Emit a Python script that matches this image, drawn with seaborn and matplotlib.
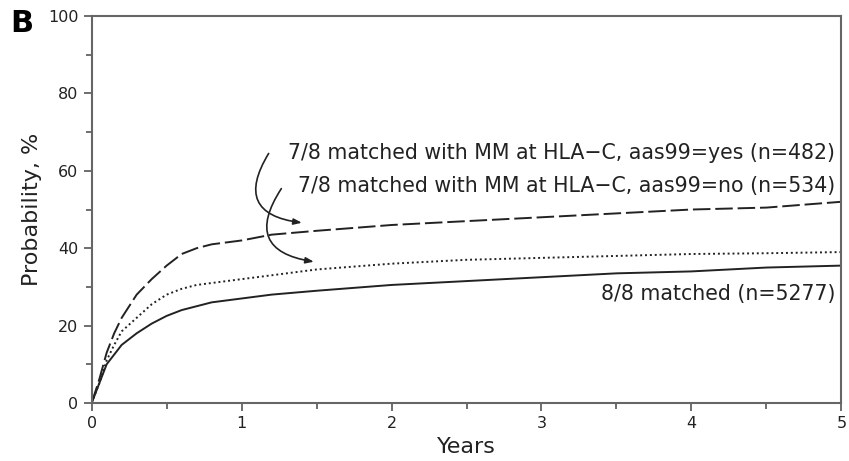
import numpy as np
import pandas as pd
import matplotlib
matplotlib.use("Agg")
import matplotlib.pyplot as plt
from matplotlib.ticker import MultipleLocator
import seaborn as sns

# values (years, cumulative probability %)
years = [0, 0.05, 0.1, 0.15, 0.2, 0.3, 0.4, 0.5, 0.6, 0.7, 0.8, 1.0, 1.2, 1.5,
         2.0, 2.5, 3.0, 3.5, 4.0, 4.5, 5.0]
mm_c_yes = [0, 6, 13, 18, 22, 28, 32, 35.5, 38.5, 40, 41, 42, 43.5, 44.5,
            46, 47, 48, 49, 50, 50.5, 52]
mm_c_no = [0, 5, 11, 15, 18.5, 22, 25.5, 28, 29.5, 30.5, 31, 32, 33, 34.5,
           36, 37, 37.5, 38, 38.5, 38.7, 39]
matched_88 = [0, 5, 10, 12.5, 15, 18, 20.5, 22.5, 24, 25, 26, 27, 28, 29,
              30.5, 31.5, 32.5, 33.5, 34, 35, 35.5]

label_yes = "7/8 matched with MM at HLA\u2212C, aas99=yes (n=482)"
label_no = "7/8 matched with MM at HLA\u2212C, aas99=no (n=534)"
label_88 = "8/8 matched (n=5277)"

df = pd.DataFrame({
    "Years": years * 3,
    "Probability": mm_c_yes + mm_c_no + matched_88,
    "Group": ["yes"] * len(years) + ["no"] * len(years) + ["88"] * len(years),
})

sns.set_theme(style="ticks")
plt.rcParams["font.family"] = ["DejaVu Sans"]

fig = plt.figure(figsize=(8.49, 4.61), dpi=100)
ax = fig.add_axes([0.108, 0.126, 0.883, 0.839])

ink = "#222222"
sns.lineplot(data=df[df.Group == "yes"], x="Years", y="Probability", ax=ax,
             color=ink, lw=1.4, linestyle=(0, (9, 2.5)))
sns.lineplot(data=df[df.Group == "no"], x="Years", y="Probability", ax=ax,
             color=ink, lw=1.4, linestyle=(0, (1, 1.5)))
sns.lineplot(data=df[df.Group == "88"], x="Years", y="Probability", ax=ax,
             color=ink, lw=1.4)

ax.set_xlim(0, 5)
ax.set_ylim(0, 100)
ax.xaxis.set_major_locator(MultipleLocator(1))
ax.xaxis.set_minor_locator(MultipleLocator(0.5))
ax.yaxis.set_major_locator(MultipleLocator(20))
ax.yaxis.set_minor_locator(MultipleLocator(10))
ax.tick_params(which="both", direction="out", color="#555555", width=1.2, labelsize=11.5, labelcolor=ink)
ax.tick_params(which="major", length=6)
ax.tick_params(which="minor", length=4)
for s in ax.spines.values():
    s.set_color("#666666")
    s.set_linewidth(1.5)

ax.set_xlabel("Years", fontsize=16, color=ink)
ax.set_ylabel("Probability, %", fontsize=16, color=ink)

fs = 14.8
ax.text(4.96, 64.6, label_yes, ha="right", va="center", fontsize=fs, color=ink)
ax.text(4.96, 56.0, label_no, ha="right", va="center", fontsize=fs, color=ink)
ax.text(4.96, 28.2, label_88, ha="right", va="center", fontsize=fs, color=ink)

ax.annotate("", xy=(1.42, 46.5), xytext=(1.19, 65.1),
            arrowprops=dict(arrowstyle="-|>,head_length=0.4,head_width=0.15", color=ink, lw=1.2,
                            connectionstyle="arc3,rad=0.8"))
ax.annotate("", xy=(1.50, 36.4), xytext=(1.275, 56.0),
            arrowprops=dict(arrowstyle="-|>,head_length=0.4,head_width=0.15", color=ink, lw=1.2,
                            connectionstyle="arc3,rad=0.8"))

fig.text(0.012, 0.93, "B", fontsize=22, fontweight="bold", color="black")

fig.savefig("out.png", dpi=100)
